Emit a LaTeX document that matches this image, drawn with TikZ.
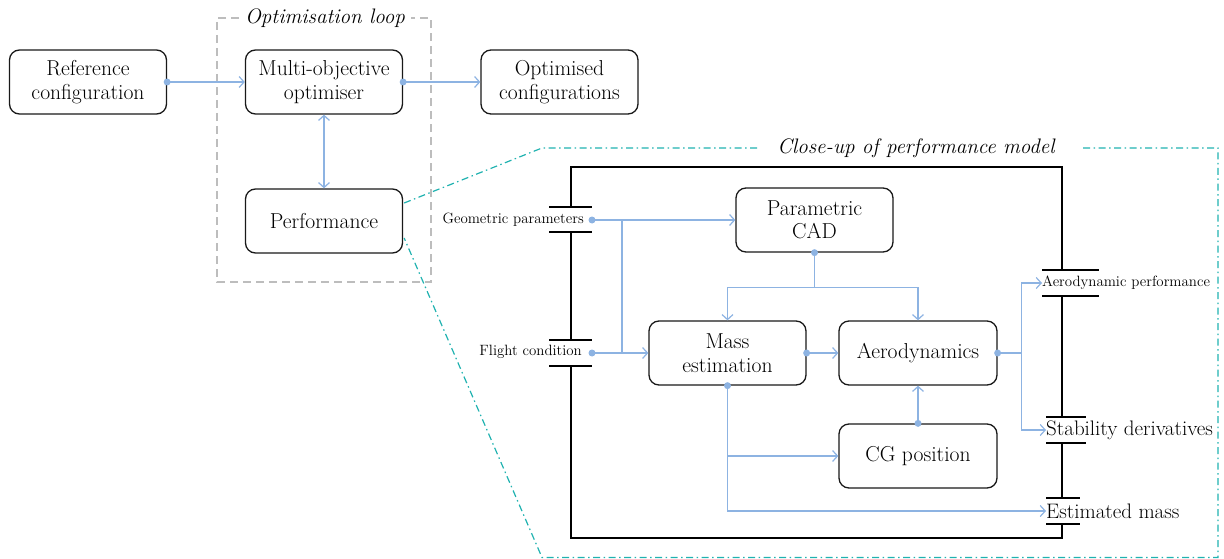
\documentclass[tikz,border=0pt]{standalone}
\usepackage{fontspec}
\usetikzlibrary{arrows.meta,calc}
\definecolor{lnk}{HTML}{8DB3E2}
\definecolor{tealc}{HTML}{20B2B0}
\definecolor{grayd}{HTML}{BDBDBD}
\newcommand\boxtxt{\fontsize{21.6}{23.5}\selectfont}
\newcommand\bigtxt{\fontsize{21}{23.5}\selectfont}
\newcommand\smalltxt{\fontsize{14.9}{17}\selectfont}
\tikzset{
  box/.style={draw=black!90, line width=1.3pt, rounded corners=10pt, minimum width=157pt, minimum height=64pt, align=center, font=\boxtxt, inner sep=2pt},
  lnkline/.style={draw=lnk, line width=1.2pt},
  arr/.style={lnkline, -{Straight Barb[length=5pt,width=11pt]}},
  darr/.style={lnkline, {Straight Barb[length=5pt,width=11pt]}-{Straight Barb[length=5pt,width=11pt]}},
  frame/.style={draw=black, line width=1.3pt},
  bar/.style={draw=black, line width=1.3pt},
  plabel/.style={inner sep=0pt, font=\smalltxt},
  blabel/.style={inner sep=0pt, font=\bigtxt},
  tealdash/.style={draw=tealc, line width=1.2pt, dash pattern=on 7pt off 3.5pt on 1.5pt off 3.5pt},
  graydash/.style={draw=grayd, line width=1.1pt, dash pattern=on 8pt off 5pt},
}
\begin{document}
\begin{tikzpicture}[x=1pt,y=-1pt]
\useasboundingbox (0,0) rectangle (1224,559);
% optimisation loop frame
\draw[graydash] (239,18) -- (217,18) -- (217,282) -- (431,282) -- (431,18) -- (411,18);
\node[font=\bigtxt\itshape, inner sep=0pt] (looptitle) at (325,18) {Optimisation loop};
% top boxes
\node[box] (ref) at (88,82) {Reference\\configuration};
\node[box] (opt) at (324,82) {Multi-objective\\optimiser};
\node[box] (res) at (559.5,82) {Optimised\\configurations};
\node[box] (perf) at (324,221) {Performance};
\draw[arr] (ref.east) -- (opt.west);
\draw[arr] (opt.east) -- (res.west);
\draw[darr] (opt.south) -- (perf.north);
\fill[lnk] (ref.east) circle (3.5pt);
\fill[lnk] (opt.east) circle (3.5pt);
% close-up outline
\draw[tealdash] ($(perf.east)+(1,-18)$) -- (542,148) -- (758,148);
\draw[tealdash] (1083,148) -- (1218,148) -- (1218,557.5) -- (542,557.5) -- ($(perf.east)+(1,17)$);
\node[font=\bigtxt\itshape, inner sep=0pt] (cutitle) at (916,148) {Close-up of performance model};
% performance model frame
\draw[frame] (571,207) -- (571,167) -- (1062,167) -- (1062,270);
\draw[frame] (571,232) -- (571,340);
\draw[frame] (571,366) -- (571,538) -- (1062,538) -- (1062,524);
\draw[frame] (1062,498) -- (1062,443);
\draw[frame] (1062,417) -- (1062,296);
% ports
\draw[bar] (549,207) -- (592,207);
\draw[bar] (549,232) -- (592,232);
\draw[bar] (549,340) -- (592,340);
\draw[bar] (549,366) -- (592,366);
\draw[bar] (1042,270) -- (1099,270);
\draw[bar] (1042,296) -- (1099,296);
\draw[bar] (1046,417) -- (1086,417);
\draw[bar] (1046,443) -- (1086,443);
\draw[bar] (1046,498) -- (1080,498);
\draw[bar] (1046,524) -- (1080,524);
\coordinate (gpP) at (592,220);
\coordinate (fcP) at (592,353);
\node[plabel, anchor=east] (gpL) at (584,220) {Geometric parameters};
\node[plabel, anchor=east] (fcL) at (582,352) {Flight condition};
\node[plabel, anchor=west] (apL) at (1042,283) {Aerodynamic performance};
\node[blabel, anchor=west] (sdL) at (1046,430) {Stability derivatives};
\node[blabel, anchor=west] (emL) at (1046,511) {Estimated mass};
% inner boxes
\node[box] (cad) at (814.5,220) {Parametric\\CAD};
\node[box] (mass) at (727.5,353) {Mass\\estimation};
\node[box, minimum width=158pt] (aero) at (918,353) {Aerodynamics};
\node[box, minimum width=158pt] (cg) at (918,456) {CG position};
% connectors
\draw[arr] (gpP) -- (cad.west);
\coordinate (gj) at (622,220);
\draw[lnkline] (gj) -- (gj |- fcP);
\draw[arr] (fcP) -- (mass.west);
\draw[arr] (cad.south) -- ++(0,35) coordinate (cj) -| (mass.north);
\draw[arr] (cj) -| (aero.north);
\draw[arr] (mass.east) -- (aero.west);
\draw[arr] (aero.east) -- ++(24,0) coordinate (aj) |- (apL.west);
\draw[arr] (aj) |- (sdL.west);
\draw[arr] (cg.north) -- (aero.south);
\draw[arr] (mass.south) |- (emL.west);
\draw[arr] (mass.south |- cg.west) -- (cg.west);
% dots
\foreach \p in {gpP, fcP, cad.south, mass.east, mass.south, aero.east, cg.north}
  \fill[lnk] (\p) circle (3.5pt);
\end{tikzpicture}
\end{document}
